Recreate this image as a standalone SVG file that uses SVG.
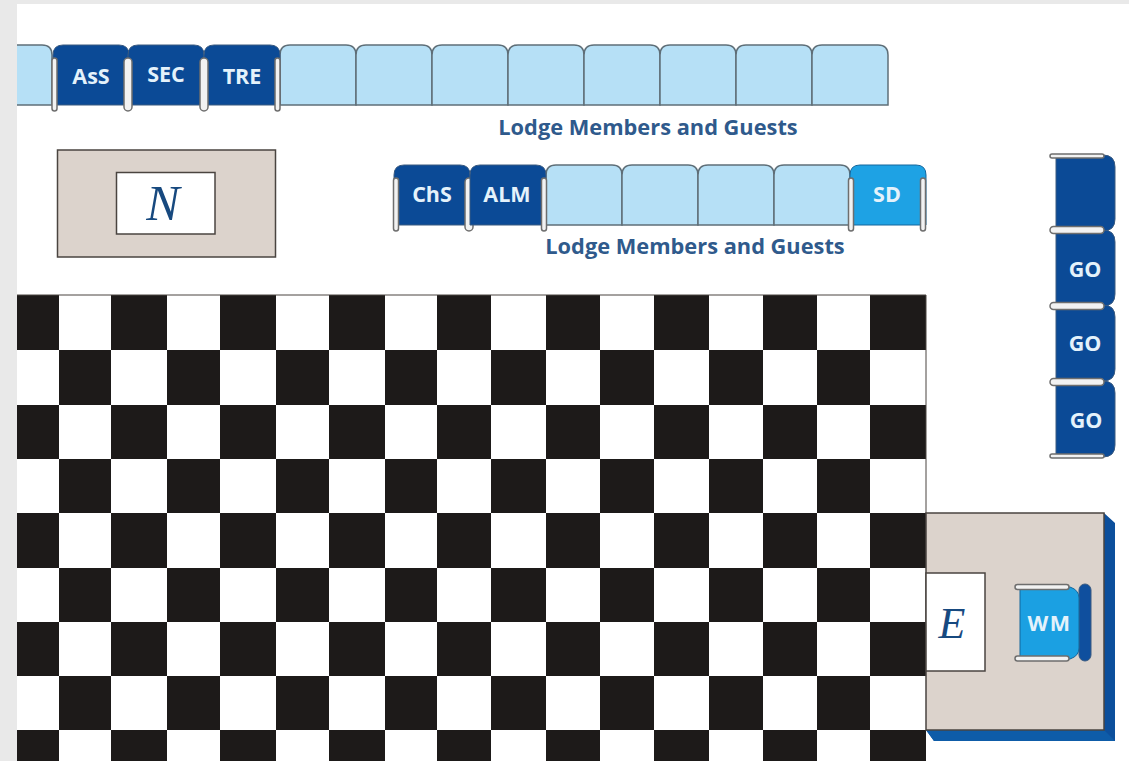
<svg xmlns="http://www.w3.org/2000/svg" width="1129" height="761" viewBox="0 0 1129 761">
<style>
.lbl{font-family:"Open Sans","Noto Sans",sans-serif;font-weight:700;fill:#e4f2fb;font-size:21.500px;text-anchor:middle}
.cap{font-family:"Open Sans","Noto Sans",sans-serif;font-weight:700;fill:#2f5a8c;font-size:21.800px;text-anchor:middle}
.let{font-family:"Liberation Serif",serif;font-style:italic;fill:#17497f;text-anchor:middle}
.plat{fill:#dcd3cc;stroke:#4a4440;stroke-width:1.5}
.box{fill:#fff;stroke:#4a4440;stroke-width:1.5}
.sl{fill:#b6e0f6;stroke:#5f6f78;stroke-width:1.5}
.sd{fill:#0b4a96;stroke:#3a5a80;stroke-width:1}
.sb{fill:#1ea2e4;stroke:#14669c;stroke-width:1}
.arm{fill:#f2f2f2;stroke:#6e6e6e;stroke-width:1.5}
</style>
<defs>
<path id="seat" d="M0 60V10Q0 0 10 0H66Q76 0 76 10V60Z"/>
<rect id="armv" x="-2.500" y="13" width="5" height="53" rx="2.500"/>
<rect id="armw" x="-4" y="13" width="8" height="53" rx="4"/>
<path id="seatv" d="M0 0H47Q59 0 59 12V64Q59 76 47 76H0Z"/>
<rect id="armh" x="-6" y="-2" width="54" height="4" rx="2"/>
<rect id="armt" x="-6" y="-3.500" width="54" height="7" rx="3.500"/>
</defs>
<rect width="1129" height="761" fill="#fff"/>
<rect width="1129" height="4" fill="#e9e9e9"/>
<rect width="17" height="761" fill="#e9e9e9"/>

<g id="platform-n">
<rect class="plat" x="57.500" y="150" width="218" height="107"/>
<rect class="box" x="116.500" y="172.500" width="98.500" height="61.500"/>
<text class="let" x="163" y="220" font-size="50">N</text>
</g>

<g id="row1">
<path class="sl" d="M17 45H42Q52 45 52 55V105H17"/>
<use href="#seat" class="sl" x="280" y="45"/><use href="#seat" class="sl" x="356" y="45"/>
<use href="#seat" class="sl" x="432" y="45"/><use href="#seat" class="sl" x="508" y="45"/>
<use href="#seat" class="sl" x="584" y="45"/><use href="#seat" class="sl" x="660" y="45"/>
<use href="#seat" class="sl" x="736" y="45"/><use href="#seat" class="sl" x="812" y="45"/>
</g>
<g id="AsS"><use href="#seat" class="sd" x="53" y="45"/><use href="#armv" class="arm" x="54.500" y="45"/><text class="lbl" x="91" y="84">AsS</text></g>
<g id="SEC"><use href="#seat" class="sd" x="128" y="45"/><use href="#armw" class="arm" x="128" y="45"/><text class="lbl" x="166" y="82">SEC</text></g>
<g id="TRE"><use href="#seat" class="sd" x="204" y="45"/><use href="#armw" class="arm" x="204" y="45"/><use href="#armv" class="arm" x="277.500" y="45"/><text class="lbl" x="242" y="84">TRE</text></g>
<g id="caption1"><text class="cap" x="648" y="135">Lodge Members and Guests</text></g>

<g id="row2">
<use href="#seat" class="sl" x="546" y="165"/><use href="#seat" class="sl" x="622" y="165"/>
<use href="#seat" class="sl" x="698" y="165"/><use href="#seat" class="sl" x="774" y="165"/>
</g>
<g id="ChS"><use href="#seat" class="sd" x="394" y="165"/><use href="#armv" class="arm" x="396" y="165"/><use href="#armw" class="arm" x="469" y="165"/><text class="lbl" x="432" y="202">ChS</text></g>
<g id="ALM"><use href="#seat" class="sd" x="470" y="165"/><use href="#armv" class="arm" x="544" y="165"/><text class="lbl" x="507" y="202">ALM</text></g>
<g id="SD"><use href="#seat" class="sb" x="850" y="165"/><use href="#armv" class="arm" x="851" y="165"/><use href="#armv" class="arm" x="923" y="165"/><text class="lbl" x="887" y="202">SD</text></g>
<g id="caption2"><text class="cap" x="695" y="254">Lodge Members and Guests</text></g>

<g id="GO-col">
<g id="GO0"><use href="#seatv" class="sd" x="1056" y="155"/></g>
<g id="GO1"><use href="#seatv" class="sd" x="1056" y="230"/><text class="lbl" x="1085" y="277">GO</text></g>
<g id="GO2"><use href="#seatv" class="sd" x="1056" y="305"/><text class="lbl" x="1085" y="351">GO</text></g>
<g id="GO3"><use href="#seatv" class="sd" x="1056" y="381"/><text class="lbl" x="1086" y="428">GO</text></g>
<use href="#armh" class="arm" x="1056" y="156"/><use href="#armt" class="arm" x="1056" y="230"/>
<use href="#armt" class="arm" x="1056" y="306"/><use href="#armt" class="arm" x="1056" y="382"/>
<use href="#armh" class="arm" x="1056" y="456"/>
</g>

<g id="checkerboard">
<rect x="17" y="295" width="909" height="466" fill="#fff"/>
<path fill="#1d1a19" d="M17 295h42v55h-42zM111 295h56v55h-56zM220 295h56v55h-56zM329 295h56v55h-56zM437 295h54v55h-54zM546 295h54v55h-54zM654 295h55v55h-55zM763 295h54v55h-54zM870 295h56v55h-56z
M59 350h52v55h-52zM167 350h53v55h-53zM276 350h53v55h-53zM385 350h52v55h-52zM491 350h55v55h-55zM600 350h54v55h-54zM709 350h54v55h-54zM817 350h53v55h-53z
M17 405h42v54h-42zM111 405h56v54h-56zM220 405h56v54h-56zM329 405h56v54h-56zM437 405h54v54h-54zM546 405h54v54h-54zM654 405h55v54h-55zM763 405h54v54h-54zM870 405h56v54h-56z
M59 459h52v54h-52zM167 459h53v54h-53zM276 459h53v54h-53zM385 459h52v54h-52zM491 459h55v54h-55zM600 459h54v54h-54zM709 459h54v54h-54zM817 459h53v54h-53z
M17 513h42v55h-42zM111 513h56v55h-56zM220 513h56v55h-56zM329 513h56v55h-56zM437 513h54v55h-54zM546 513h54v55h-54zM654 513h55v55h-55zM763 513h54v55h-54zM870 513h56v55h-56z
M59 568h52v54h-52zM167 568h53v54h-53zM276 568h53v54h-53zM385 568h52v54h-52zM491 568h55v54h-55zM600 568h54v54h-54zM709 568h54v54h-54zM817 568h53v54h-53z
M17 622h42v54h-42zM111 622h56v54h-56zM220 622h56v54h-56zM329 622h56v54h-56zM437 622h54v54h-54zM546 622h54v54h-54zM654 622h55v54h-55zM763 622h54v54h-54zM870 622h56v54h-56z
M59 676h52v54h-52zM167 676h53v54h-53zM276 676h53v54h-53zM385 676h52v54h-52zM491 676h55v54h-55zM600 676h54v54h-54zM709 676h54v54h-54zM817 676h53v54h-53z
M17 730h42v31h-42zM111 730h56v31h-56zM220 730h56v31h-56zM329 730h56v31h-56zM437 730h54v31h-54zM546 730h54v31h-54zM654 730h55v31h-55zM763 730h54v31h-54zM870 730h56v31h-56z"/>
<path d="M17 295H926V513" fill="none" stroke="#4a4440" stroke-width="1"/>
</g>

<g id="platform-e">
<path d="M1104 513L1115 523V741H934L926 730H1104Z" fill="#0c4f9c"/>
<path d="M926 730H1104L1115 741H934Z" fill="#0e5ca8"/>
<rect class="plat" x="926" y="513" width="178" height="217"/>
<rect class="box" x="926" y="573" width="59" height="98"/>
<text class="let" x="952" y="638" font-size="44">E</text>
</g>
<g id="WM">
<rect x="1079" y="584" width="12" height="77" rx="6" fill="#0f4f9e" stroke="#3a5a80"/>
<path d="M1020 587H1070Q1079 590 1079 598V648Q1079 656 1070 659H1020Z" fill="#1ba0e2" stroke="#14669c"/>
<rect class="arm" x="1015" y="584.500" width="54" height="5" rx="2.500"/>
<rect class="arm" x="1015" y="656" width="54" height="5" rx="2.500"/>
<text class="lbl" x="1049.500" y="631" style="letter-spacing:1.500px">WM</text>
</g>
</svg>
